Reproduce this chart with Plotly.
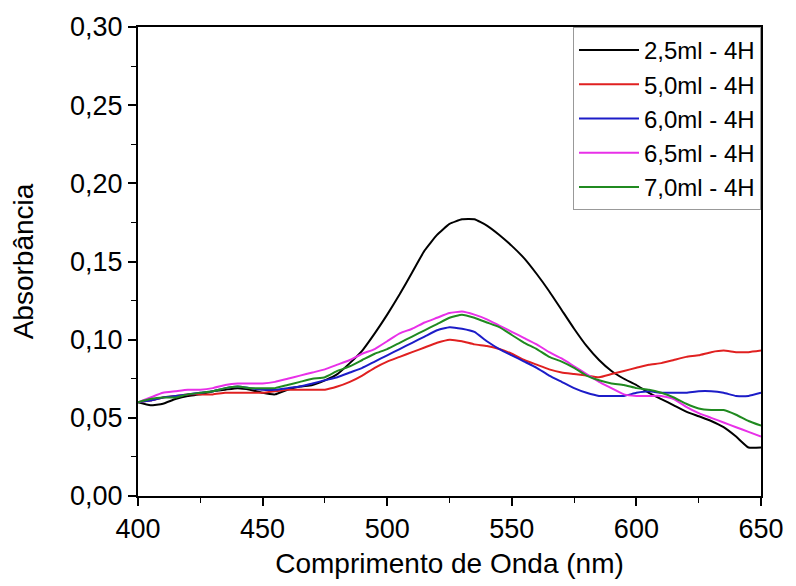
import plotly.graph_objects as go

wavelength = list(range(400, 651, 5))

abs_2_5 = [0.060, 0.058, 0.059, 0.062, 0.064, 0.065, 0.067, 0.068, 0.069, 0.068,
           0.066, 0.065, 0.068, 0.070, 0.071, 0.074, 0.078, 0.085, 0.093, 0.104,
           0.116, 0.129, 0.143, 0.157, 0.167, 0.174, 0.177, 0.177, 0.173, 0.167,
           0.160, 0.152, 0.142, 0.131, 0.119, 0.107, 0.096, 0.087, 0.080, 0.075,
           0.071, 0.066, 0.062, 0.058, 0.054, 0.051, 0.048, 0.044, 0.038, 0.031,
           0.031]
abs_5_0 = [0.060, 0.061, 0.063, 0.064, 0.065, 0.065, 0.065, 0.066, 0.066, 0.066,
           0.066, 0.067, 0.068, 0.068, 0.068, 0.068, 0.070, 0.073, 0.077, 0.082,
           0.086, 0.089, 0.092, 0.095, 0.098, 0.100, 0.099, 0.097, 0.096, 0.094,
           0.091, 0.087, 0.084, 0.081, 0.079, 0.078, 0.077, 0.076, 0.078, 0.080,
           0.082, 0.084, 0.085, 0.087, 0.089, 0.090, 0.092, 0.093, 0.092, 0.092,
           0.093]
abs_6_0 = [0.060, 0.061, 0.063, 0.064, 0.065, 0.066, 0.067, 0.069, 0.070, 0.069,
           0.068, 0.068, 0.069, 0.070, 0.072, 0.074, 0.076, 0.079, 0.082, 0.086,
           0.090, 0.094, 0.098, 0.102, 0.106, 0.108, 0.107, 0.105, 0.099, 0.094,
           0.090, 0.086, 0.082, 0.077, 0.073, 0.069, 0.066, 0.064, 0.064, 0.064,
           0.066, 0.067, 0.066, 0.066, 0.066, 0.067, 0.067, 0.066, 0.064, 0.064,
           0.066]
abs_6_5 = [0.060, 0.063, 0.066, 0.067, 0.068, 0.068, 0.069, 0.071, 0.072, 0.072,
           0.072, 0.073, 0.075, 0.077, 0.079, 0.081, 0.084, 0.087, 0.091, 0.094,
           0.099, 0.104, 0.107, 0.111, 0.114, 0.117, 0.118, 0.116, 0.113, 0.109,
           0.105, 0.101, 0.097, 0.092, 0.088, 0.083, 0.078, 0.073, 0.069, 0.065,
           0.064, 0.064, 0.064, 0.062, 0.057, 0.053, 0.050, 0.047, 0.044, 0.041,
           0.038]
abs_7_0 = [0.060, 0.062, 0.063, 0.063, 0.065, 0.066, 0.067, 0.069, 0.070, 0.069,
           0.069, 0.069, 0.071, 0.073, 0.075, 0.076, 0.080, 0.083, 0.087, 0.091,
           0.094, 0.098, 0.102, 0.106, 0.110, 0.114, 0.116, 0.114, 0.111, 0.108,
           0.103, 0.098, 0.094, 0.089, 0.086, 0.082, 0.077, 0.074, 0.072, 0.071,
           0.069, 0.068, 0.066, 0.063, 0.059, 0.056, 0.055, 0.055, 0.052, 0.048,
           0.045]

series_names = ["2,5ml - 4H", "5,0ml - 4H", "6,0ml - 4H", "6,5ml - 4H", "7,0ml - 4H"]
series_values = [abs_2_5, abs_5_0, abs_6_0, abs_6_5, abs_7_0]
series_colors = ["#000000", "#e02020", "#1c1cc8", "#e830e8", "#208a20"]

x_ticks = [400, 450, 500, 550, 600, 650]
y_ticks = [0.00, 0.05, 0.10, 0.15, 0.20, 0.25, 0.30]

FONT = "Arial, Liberation Sans, sans-serif"

fig = go.Figure()
for name, vals, col in zip(series_names, series_values, series_colors):
    fig.add_trace(go.Scatter(x=wavelength, y=vals, name=name, mode="lines",
                             line=dict(color=col, width=2, shape="spline", smoothing=0.4)))

axis_common = dict(
    showline=True, linecolor="black", linewidth=2, mirror=True,
    ticks="outside", ticklen=8, tickwidth=1.5, tickcolor="black",
    showgrid=False, zeroline=False,
    tickfont=dict(family=FONT, size=27, color="black"),
)

fig.update_xaxes(range=[400, 650], tickvals=x_ticks,
                 minor=dict(ticks="outside", ticklen=5, tickwidth=1.2, tickcolor="black", dtick=25),
                 title=dict(text="Comprimento de Onda (nm)", font=dict(family=FONT, size=28, color="black"),
                            standoff=10),
                 **axis_common)
fig.update_yaxes(range=[0, 0.30], tickvals=y_ticks, tickformat=".2f",
                 minor=dict(ticks="outside", ticklen=5, tickwidth=1.2, tickcolor="black", dtick=0.025),
                 title=dict(text="Absorbância", font=dict(family=FONT, size=28, color="black"),
                            standoff=28),
                 **axis_common)

fig.update_layout(
    width=796, height=586,
    margin=dict(l=138, r=25, t=24, b=89),
    paper_bgcolor="white", plot_bgcolor="white",
    separators=",.",
    showlegend=True,
    legend=dict(x=1, y=1, xanchor="right", yanchor="top",
                bgcolor="white", bordercolor="#999999", borderwidth=1,
                font=dict(family=FONT, size=24, color="black"),
                tracegroupgap=0, itemwidth=60),
)

fig.write_html("out.html")
